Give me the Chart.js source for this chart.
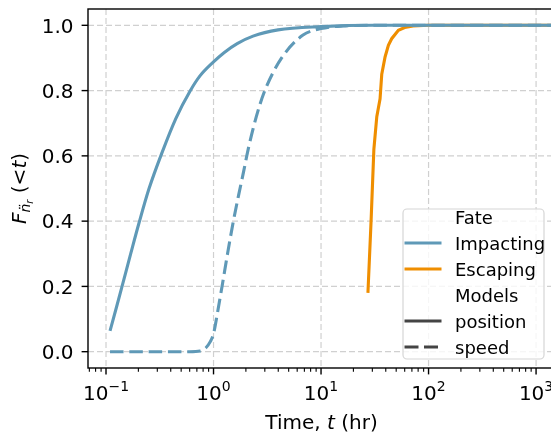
<!DOCTYPE html>
<html>
<head>
<meta charset="utf-8">
<script src="https://cdn.jsdelivr.net/npm/chart.js@4.4.1/dist/chart.umd.min.js"></script>
<style>
    html, body { margin: 0; padding: 0; background: #ffffff; overflow: hidden; }
    #wrap { width: 560px; height: 437px; }
</style>
</head>
<body>
<div id="wrap"><canvas id="cdfChart" width="560" height="437"></canvas></div>
<script>
    "use strict";

    // Impacting, position model
    var impactPosT = [0.109, 0.126, 0.141, 0.17, 0.203, 0.251, 0.332, 0.447, 0.604, 0.748, 1.0, 1.26, 1.66, 2.33, 3.98, 10, 31.6, 1500];
    var impactPosF = [0.064, 0.14, 0.20, 0.301, 0.395, 0.499, 0.61, 0.715, 0.798, 0.845, 0.888, 0.917, 0.944, 0.967, 0.986, 0.996, 1.0, 1.0];

    // Impacting, speed model
    var impactSpdT = [0.109, 0.3, 0.6, 0.75, 0.85, 0.93, 1.0, 1.1, 1.2, 1.35, 1.53, 1.7, 1.9, 2.1, 2.5, 3.0, 4.3, 6.8, 10, 16, 30, 1500];
    var impactSpdF = [0, 0, 0, 0.002, 0.012, 0.03, 0.055, 0.128, 0.2, 0.3, 0.4, 0.475, 0.55, 0.62, 0.72, 0.8, 0.9, 0.97, 0.99, 0.998, 1.0, 1.0];

    // Escaping, position model
    var escapePosT = [27.3, 29.2, 31.0, 33.0, 35.4, 36.7, 39.4, 42.3, 45.4, 52.4, 60, 71.8, 100, 1500];
    var escapePosF = [0.18, 0.40, 0.62, 0.72, 0.775, 0.85, 0.903, 0.939, 0.959, 0.985, 0.993, 0.998, 1.0, 1.0];

    var xTickValues = [0.1, 1, 10, 100, 1000];
    var xTickExps = ['\u22121', '0', '1', '2', '3'];
    var yTickValues = [0, 0.2, 0.4, 0.6, 0.8, 1.0];
    var yTickLabels = ['0.0', '0.2', '0.4', '0.6', '0.8', '1.0'];

    var legendLabels = ['Fate', 'Impacting', 'Escaping', 'Models', 'position', 'speed'];

    var BLUE = '#5f99b7';
    var ORANGE = '#ef8e00';
    var DARK = '#444444';
    var FAM = '"DejaVu Sans", sans-serif';
    var FS = 20;      // ticks and axis titles
    var LFS = 18;     // legend

    function pairs(ts, fs) {
        return ts.map(function (t, i) { return { x: t, y: fs[i] }; });
    }

    function runsWidth(ctx, runs) {
        var w = 0;
        runs.forEach(function (r) {
            ctx.font = r.font;
            w += ctx.measureText(r.text).width;
        });
        return w;
    }

    // draws text pieces with their own font and baseline shift
    function drawRuns(ctx, runs, x, y, align) {
        var w = runsWidth(ctx, runs);
        var cx = align === 'center' ? x - w / 2 : (align === 'right' ? x - w : x);
        ctx.textAlign = 'left';
        ctx.textBaseline = 'alphabetic';
        runs.forEach(function (r) {
            ctx.font = r.font;
            ctx.fillText(r.text, cx, y + (r.dy || 0));
            cx += ctx.measureText(r.text).width;
        });
    }

    function minorTicks(min, max) {
        var out = [];
        for (var e = -3; e <= 4; e++) {
            for (var m = 2; m <= 9; m++) {
                var v = m * Math.pow(10, e);
                if (v >= min && v <= max) {
                    out.push(v);
                }
            }
        }
        return out;
    }

    var mplAxes = {
        id: 'mplAxes',
        beforeDatasetsDraw: function (chart) {
            var ctx = chart.ctx, a = chart.chartArea;
            var xs = chart.scales.x, ys = chart.scales.y;
            ctx.save();
            ctx.strokeStyle = '#d0d0d0';
            ctx.lineWidth = 1.2;
            ctx.setLineDash([6, 3]);
            xTickValues.forEach(function (v) {
                var px = xs.getPixelForValue(v);
                if (px < a.left || px > a.right) { return; }
                ctx.beginPath();
                ctx.moveTo(px, a.top);
                ctx.lineTo(px, a.bottom);
                ctx.stroke();
            });
            yTickValues.forEach(function (v) {
                var py = ys.getPixelForValue(v);
                ctx.beginPath();
                ctx.moveTo(a.left, py);
                ctx.lineTo(a.right, py);
                ctx.stroke();
            });
            ctx.restore();
        },
        afterDatasetsDraw: function (chart) {
            var ctx = chart.ctx, a = chart.chartArea;
            var xs = chart.scales.x, ys = chart.scales.y;
            ctx.save();
            ctx.fillStyle = '#000000';
            ctx.strokeStyle = '#000000';

            // spines
            ctx.lineWidth = 1.4;
            ctx.strokeRect(a.left, a.top, a.right - a.left, a.bottom - a.top);

            // y ticks + labels
            yTickValues.forEach(function (v, i) {
                var py = ys.getPixelForValue(v);
                ctx.beginPath();
                ctx.moveTo(a.left, py);
                ctx.lineTo(a.left - 6.4, py);
                ctx.stroke();
                drawRuns(ctx, [{ text: yTickLabels[i], font: FS + 'px ' + FAM }], a.left - 14.5, py + 7.2, 'right');
            });

            // x ticks + labels
            xTickValues.forEach(function (v, i) {
                var px = xs.getPixelForValue(v);
                if (px < a.left || px > a.right + 20) { return; }
                ctx.lineWidth = 1.4;
                ctx.beginPath();
                ctx.moveTo(px, a.bottom);
                ctx.lineTo(px, a.bottom + 6.4);
                ctx.stroke();
                drawRuns(ctx, [
                    { text: '10', font: FS + 'px ' + FAM },
                    { text: xTickExps[i], font: (FS * 0.7) + 'px ' + FAM, dy: -9.5 }
                ], px, a.bottom + 32, 'center');
            });
            ctx.lineWidth = 1.1;
            minorTicks(xs.min, xs.max).forEach(function (v) {
                var px = xs.getPixelForValue(v);
                ctx.beginPath();
                ctx.moveTo(px, a.bottom);
                ctx.lineTo(px, a.bottom + 3.7);
                ctx.stroke();
            });

            // axis titles
            drawRuns(ctx, [
                { text: 'Time, ', font: FS + 'px ' + FAM },
                { text: 't', font: 'italic ' + FS + 'px ' + FAM },
                { text: ' (hr)', font: FS + 'px ' + FAM }
            ], (a.left + a.right) / 2, 429, 'center');

            ctx.save();
            ctx.translate(26, (a.top + a.bottom) / 2);
            ctx.rotate(-Math.PI / 2);
            drawRuns(ctx, [
                { text: 'F', font: 'italic ' + FS + 'px ' + FAM },
                { text: 'n\u0308', font: 'italic ' + (FS * 0.7) + 'px ' + FAM, dy: 4 },
                { text: 'r', font: 'italic ' + (FS * 0.5) + 'px ' + FAM, dy: 6.5 },
                { text: ' (', font: FS + 'px ' + FAM },
                { text: '<', font: FS + 'px ' + FAM },
                { text: 't', font: 'italic ' + FS + 'px ' + FAM },
                { text: ')', font: FS + 'px ' + FAM }
            ], 0, 0, 'center');
            ctx.restore();

            drawLegend(ctx);
            ctx.restore();
        }
    };

    function drawLegend(ctx) {
        var bx = 403, by = 209, bw = 141, bh = 150;
        var handles = [
            null,
            { color: BLUE, dash: [] },
            { color: ORANGE, dash: [] },
            null,
            { color: DARK, dash: [] },
            { color: DARK, dash: [14, 5.5] }
        ];
        ctx.save();
        ctx.beginPath();
        ctx.roundRect(bx, by, bw, bh, 4);
        ctx.fillStyle = 'rgba(255,255,255,0.8)';
        ctx.fill();
        ctx.strokeStyle = '#d6d6d6';
        ctx.lineWidth = 1.2;
        ctx.stroke();

        legendLabels.forEach(function (label, i) {
            var cy = 217 + i * 26;
            var h = handles[i];
            if (h) {
                ctx.strokeStyle = h.color;
                ctx.lineWidth = 3.2;
                ctx.setLineDash(h.dash);
                ctx.beginPath();
                ctx.moveTo(404.5, cy);
                ctx.lineTo(441.5, cy);
                ctx.stroke();
                ctx.setLineDash([]);
            }
            ctx.fillStyle = '#000000';
            drawRuns(ctx, [{ text: label, font: LFS + 'px ' + FAM }], 455, cy + 6.5, 'left');
        });
        ctx.restore();
    }

    var canvas = document.getElementById('cdfChart');
    var cdfChart = new Chart(canvas.getContext('2d'), {
        type: 'line',
        data: {
            datasets: [{
                label: 'Impacting position',
                data: pairs(impactPosT, impactPosF),
                borderColor: BLUE,
                borderWidth: 3.1,
                cubicInterpolationMode: 'monotone',
                pointRadius: 0
            }, {
                label: 'Impacting speed',
                data: pairs(impactSpdT, impactSpdF),
                borderColor: BLUE,
                borderWidth: 3.1,
                borderDash: [13.5, 5.8],
                cubicInterpolationMode: 'monotone',
                pointRadius: 0
            }, {
                label: 'Escaping position',
                data: pairs(escapePosT, escapePosF),
                borderColor: ORANGE,
                borderWidth: 3.1,
                tension: 0,
                pointRadius: 0
            }]
        },
        options: {
            responsive: false,
            animation: false,
            devicePixelRatio: 1,
            layout: { padding: { top: 9, right: 5, left: 0, bottom: 0 } },
            plugins: {
                legend: { display: false },
                tooltip: { enabled: false }
            },
            scales: {
                x: {
                    type: 'logarithmic',
                    min: 0.068,
                    max: 1500,
                    grid: { display: false },
                    border: { display: false },
                    ticks: { display: false },
                    afterFit: function (scale) {
                        scale.height = 69;
                        scale.paddingLeft = 0;
                        scale.paddingRight = 0;
                    }
                },
                y: {
                    type: 'linear',
                    min: -0.05,
                    max: 1.05,
                    grid: { display: false },
                    border: { display: false },
                    ticks: { display: false },
                    afterFit: function (scale) {
                        scale.width = 88;
                        scale.paddingTop = 0;
                        scale.paddingBottom = 0;
                    }
                }
            }
        },
        plugins: [mplAxes]
    });
</script>
</body>
</html>
